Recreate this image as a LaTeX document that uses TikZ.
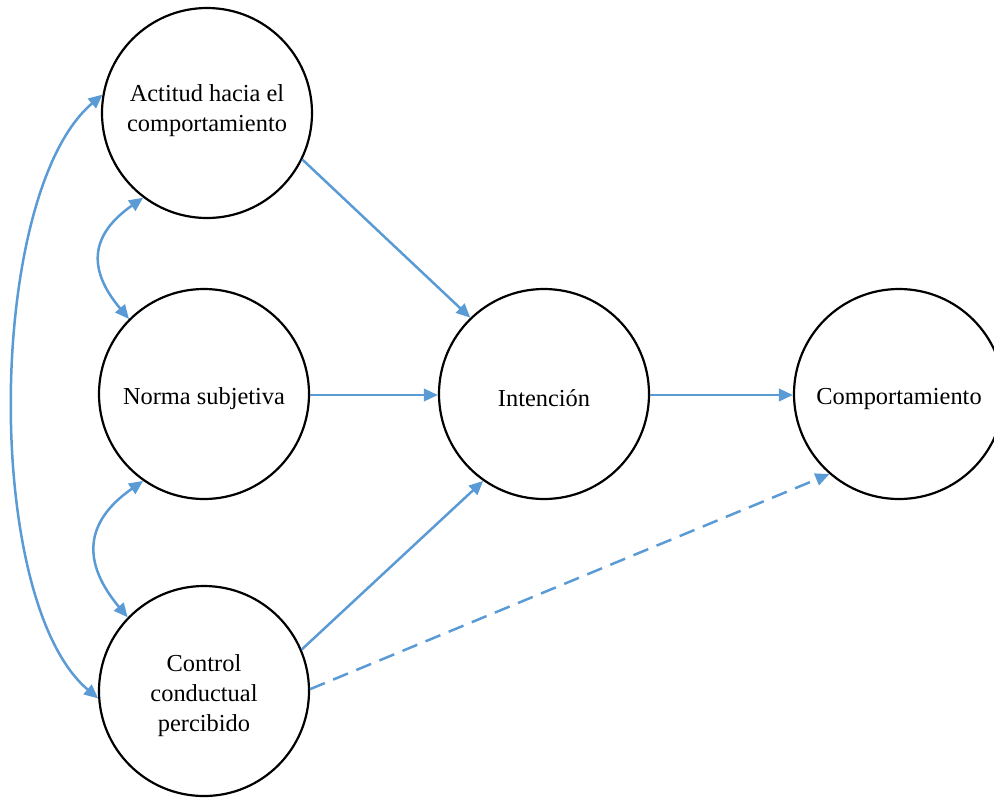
\documentclass[tikz,border=0pt]{standalone}
\usepackage{fontspec}
\setmainfont{Liberation Serif}
\usetikzlibrary{arrows.meta}
\definecolor{linkblue}{HTML}{5B9BD5}
% centred label lines, shifted vertically without changing the box size
\newcommand{\labeltext}[2]{\raisebox{#1}[\height][\depth]{\begin{tabular}{@{}c@{}}#2\end{tabular}}}
\begin{document}
\begin{tikzpicture}[x=0.5pt,y=-0.5pt,
  construct/.style={circle,draw=black,line width=1.1pt,minimum size=105pt,inner sep=0pt,
    font=\fontsize{12.2}{15}\selectfont},
  tip/.tip={Triangle[length=7pt,width=6.2pt]},
  link/.style={draw=linkblue,line width=1.25pt,-tip},
  corr/.style={draw=linkblue,line width=1.25pt,tip-tip},
  weak/.style={link,dash pattern=on 8pt off 4.5pt}]
\useasboundingbox (0,0) rectangle (994,798);
\begin{scope}
\clip (0,0) rectangle (994,798);
\node[construct] (act)  at (207,113) {\labeltext{1.5pt}{Actitud hacia el\\comportamiento}};
\node[construct] (norm) at (204,394) {\labeltext{-2pt}{Norma subjetiva}};
\node[construct] (ctrl) at (204,691) {\labeltext{-2pt}{Control\\conductual\\percibido}};
\node[construct] (int)  at (544,394) {\labeltext{-3pt}{Intención}};
\node[construct] (comp) at (899,394) {\labeltext{-2pt}{Comportamiento}};
\end{scope}
% direct effects
\draw[link] (act.-26) -- (int.134.6);
\draw[link] (norm.east |- 0,395) -- (int.west |- 0,395);
\draw[link] (ctrl.23.6) -- (int.235);
\draw[link] (int.east |- 0,395) -- (comp.west |- 0,395);
\draw[weak] (ctrl.1.6) -- (comp.229.6);
% correlations between the antecedents
\draw[corr] (act.170) .. controls +(-116,98) and +(-116,-98) .. (ctrl.184);
\draw[corr] (act.233) .. controls +(-53,37) and +(-42,-50) .. (norm.135);
\draw[corr] (norm.235) .. controls +(-59,41) and +(-46,-55) .. (ctrl.136);
\end{tikzpicture}
\end{document}
